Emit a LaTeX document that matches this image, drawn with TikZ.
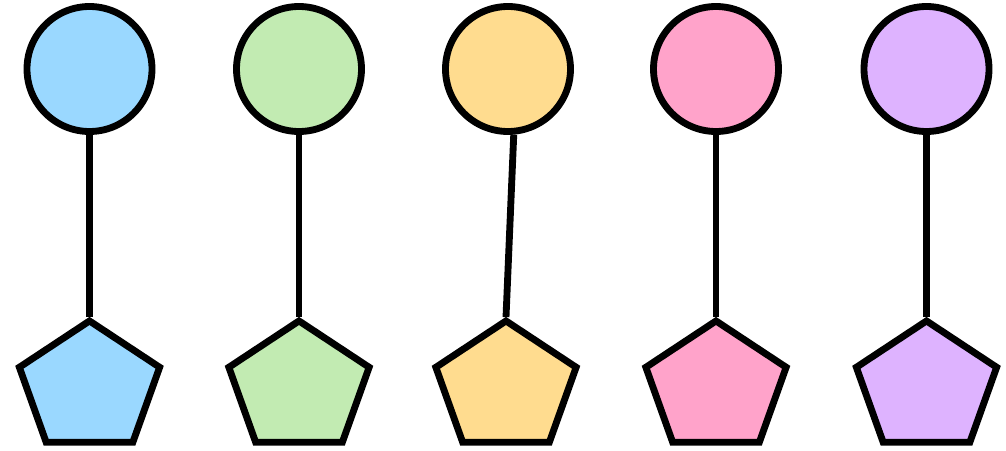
\documentclass[tikz,border=0pt]{standalone}
\usepackage{tikz}
\usetikzlibrary{shapes.geometric,positioning,calc}
\usepackage{xcolor}
\definecolor{softblue}{RGB}{154,216,255}
\definecolor{softgreen}{RGB}{194,235,178}
\definecolor{softyellow}{RGB}{255,220,143}
\definecolor{softpink}{RGB}{255,163,202}
\definecolor{softpurple}{RGB}{222,179,255}

\begin{document}
\begin{tikzpicture}[
    ball/.style={circle, draw=black, line width=3.9pt, fill=#1, inner sep=0pt, minimum size=2.5cm},
    penta/.style={regular polygon, regular polygon sides=5, draw=black, line width=3.9pt,
        line join=miter, fill=#1, inner sep=0pt, minimum size=2.95cm, yscale=0.909, transform shape},
    stick/.style={line width=3.9pt, black}
]
    \useasboundingbox (0,0) rectangle (20.12,9);
    % top row: circles, bottom row: pentagons
    \foreach \i/\xc/\xp/\col in {1/1.79/1.79/softblue, 2/5.98/5.98/softgreen,
        3/10.16/10.12/softyellow, 4/14.32/14.32/softpink, 5/18.53/18.53/softpurple} {
        \node[ball=\col] (c\i) at (\xc,7.62) {};
        \node[penta=\col] (p\i) at (\xp,1.24) {};
    }
    % connectors
    \draw[stick] (c1.south) -- (p1.north);
    \draw[stick] (c2.south) -- (p2.north);
    \draw[stick] (c3.-85) -- (p3.north);
    \draw[stick] (c4.south) -- (p4.north);
    \draw[stick] (c5.south) -- (p5.north);
\end{tikzpicture}
\end{document}
